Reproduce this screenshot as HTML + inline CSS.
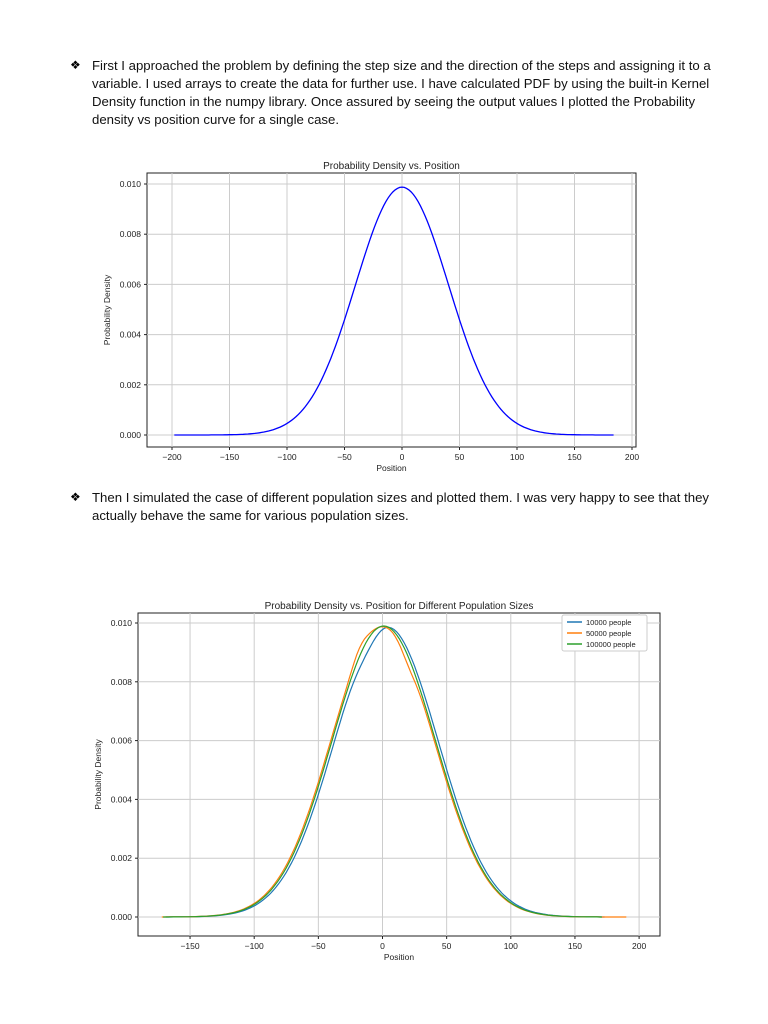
<!DOCTYPE html>
<html><head><meta charset="utf-8"><style>
body{margin:0;background:#fff;width:768px;height:1024px;position:relative;overflow:hidden;font-family:"Liberation Sans",sans-serif;}
.p{position:absolute;left:92px;width:635px;font-size:13.2px;line-height:18px;color:#111;}
.b{position:absolute;left:70px;font-size:12px;}
svg{position:absolute;left:0;top:0;}
</style></head><body>
<div class="b" style="top:58px">❖</div>
<div class="p" style="top:57px">First I approached the problem by defining the step size and the direction of the steps and assigning it to a variable. I used arrays to create the data for further use. I have calculated PDF by using the built-in Kernel Density function in the numpy library. Once assured by seeing the output values I plotted the Probability density vs position curve for a single case.</div>
<div class="b" style="top:490px">❖</div>
<div class="p" style="top:489px">Then I simulated the case of different population sizes and plotted them. I was very happy to see that they actually behave the same for various population sizes.</div>
<svg width="768" height="1024" id="s" font-family="Liberation Sans, sans-serif"></svg>
<script>
var s=document.getElementById('s'),h='';
function g(x,sg){return Math.exp(-x*x/(2*sg*sg))/(sg*2.5066);}
function chart(L,R,T,B,x0,xs,y0,ys,xt,yt,title){
 h+='<rect x="'+L+'" y="'+T+'" width="'+(R-L)+'" height="'+(B-T)+'" fill="#fff" stroke="#222" stroke-width="1"/>';
 xt.forEach(function(v){var X=x0+v*xs;h+='<line x1="'+X+'" x2="'+X+'" y1="'+T+'" y2="'+B+'" stroke="#ccc"/><line x1="'+X+'" x2="'+X+'" y1="'+B+'" y2="'+(B+3)+'" stroke="#222"/><text x="'+X+'" y="'+(B+13)+'" font-size="8.5" text-anchor="middle" fill="#222">'+(v<0?'−'+(-v):v)+'</text>';});
 yt.forEach(function(v){var Y=y0-v*ys;h+='<line x1="'+L+'" x2="'+R+'" y1="'+Y+'" y2="'+Y+'" stroke="#ccc"/><line x1="'+(L-3)+'" x2="'+L+'" y1="'+Y+'" y2="'+Y+'" stroke="#222"/><text x="'+(L-6)+'" y="'+(Y+3)+'" font-size="8.5" text-anchor="end" fill="#222">'+(v/1000).toFixed(3)+'</text>';});
 h+='<text x="'+((L+R)/2)+'" y="'+(T-4)+'" font-size="10" text-anchor="middle" fill="#222">'+title+'</text>';
 h+='<text x="'+((L+R)/2)+'" y="'+(B+24)+'" font-size="8.5" text-anchor="middle" fill="#222">Position</text>';
 var cy=(T+B)/2;h+='<text transform="translate('+(L-37)+','+cy+') rotate(-90)" font-size="8.5" text-anchor="middle" fill="#222">Probability Density</text>';
}
function path(a,b,x0,xs,y0,ys,sg,col,w,wob){var d='';for(var x=a;x<=b;x+=2){var y=g(x,sg)*1000+(wob?wob(x):0);d+=(d?'L':'M')+(x0+x*xs).toFixed(1)+','+(y0-y*ys).toFixed(1);}h+='<path d="'+d+'" fill="none" stroke="'+col+'" stroke-width="'+w+'"/>';}
chart(147,636,173,447,402,1.15,435,25.1,[-200,-150,-100,-50,0,50,100,150,200],[0,2,4,6,8,10],'Probability Density vs. Position');
path(-198,184,402,1.15,435,25.1,40.4,'#0000ff',1.3);
chart(138,660,613,936,382.5,1.283,917,29.4,[-150,-100,-50,0,50,100,150,200],[0,2,4,6,8,10],'Probability Density vs. Position for Different Population Sizes');
path(-172,170,382.5+3*1.283,1.283,917,29.4,40.3,'#1f77b4',1.2,function(x){return -0.25*Math.exp(-Math.pow((x+15)/12,2));});
path(-172,190,382.5,1.283,917,29.4,40.4,'#ff7f0e',1.2,function(x){return 0.2*Math.exp(-Math.pow((x+18)/8,2))-0.2*Math.exp(-Math.pow((x-20)/8,2));});
path(-172,170,382.5+1*1.283,1.283,917,29.4,40.3,'#2ca02c',1.2);
h+='<rect x="562" y="615" width="85" height="36" fill="#fff" stroke="#ccc" rx="2"/>';
[['#1f77b4','10000 people'],['#ff7f0e','50000 people'],['#2ca02c','100000 people']].forEach(function(e,i){var y=622+i*11;h+='<line x1="567" x2="582" y1="'+y+'" y2="'+y+'" stroke="'+e[0]+'" stroke-width="1.5"/><text x="586" y="'+(y+3)+'" font-size="7.5" fill="#222">'+e[1]+'</text>';});
s.innerHTML=h;
</script>
</body></html>
